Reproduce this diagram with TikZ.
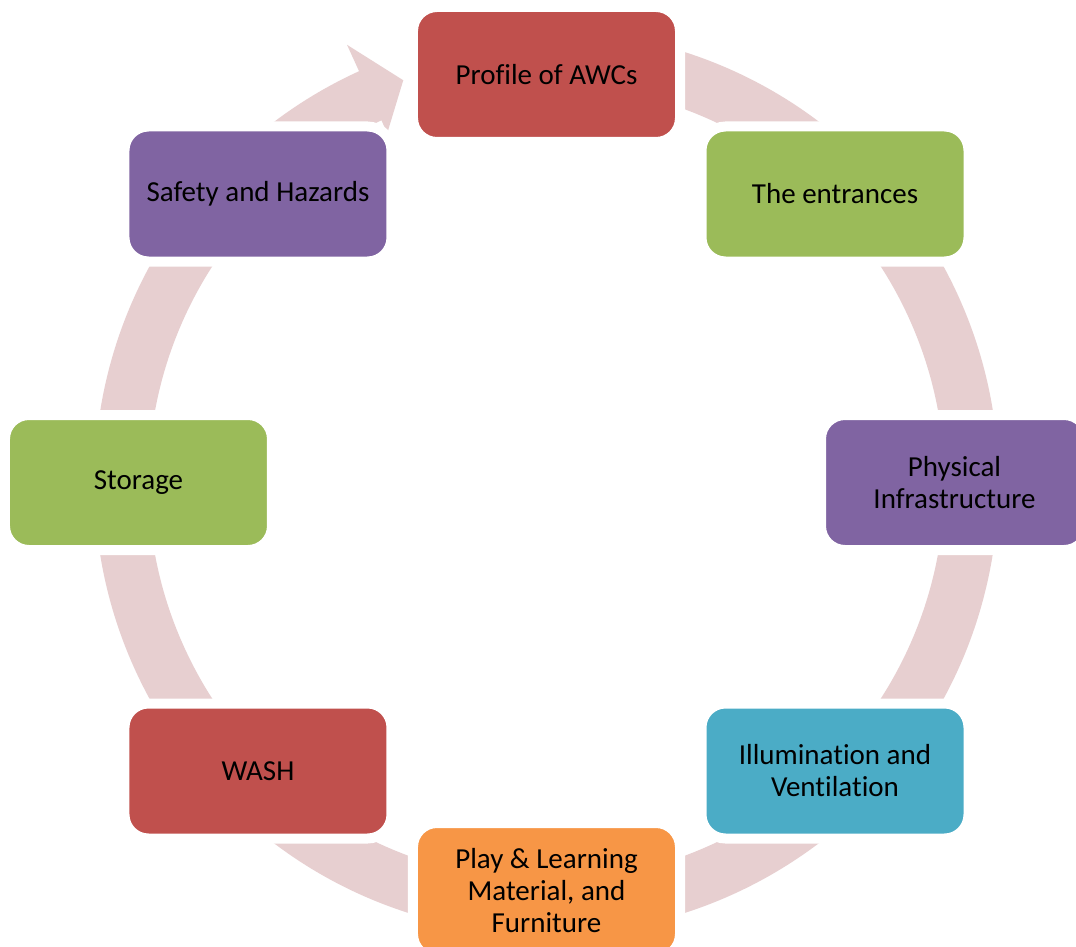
\documentclass[tikz,border=0pt]{standalone}
\usepackage{fontspec}
\setmainfont{Carlito}[Ligatures=NoCommon]
\definecolor{ringc}{RGB}{231,207,208}
\definecolor{cred}{RGB}{192,80,77}
\definecolor{cgreen}{RGB}{155,187,89}
\definecolor{cpurple}{RGB}{128,100,162}
\definecolor{cblue}{RGB}{75,172,198}
\definecolor{corange}{RGB}{247,150,70}
\begin{document}
\begin{tikzpicture}[x=1pt,y=1pt,
  box/.style={draw=white, line width=10pt, rounded corners=24pt,
    minimum width=267pt, minimum height=135pt, inner sep=0pt,
    align=center, text=black, font=\fontsize{29}{32}\selectfont}]
\fill[white] (-546.5,-463.5) rectangle (529.5,482.5);
\useasboundingbox (-546.5,-463.5) rectangle (529.5,482.5);
% ring with arrowhead
\fill[ringc] (80:452) arc[start angle=80,end angle=-245.5,radius=452]
  -- (-245.5:481) -- (-250.4:427) -- (-245.5:384) -- (-245.5:398)
  arc[start angle=-245.5,end angle=80,radius=398] -- cycle;
% boxes
\node[box, fill=cred]    (profile) at (90:408)   {Profile of AWCs};
\node[box, fill=cgreen]  (entr)    at (45:408)   {The entrances};
\node[box, fill=cpurple] (phys)    at (0:408)    {Physical\\Infrastructure};
\node[box, fill=cblue]   (illum)   at (-45:408)  {Illumination and\\Ventilation};
\node[box, fill=corange] (play)    at (-90:408)  {Play \& Learning\\Material, and\\Furniture};
\node[box, fill=cred]    (wash)    at (-135:408) {WASH};
\node[box, fill=cgreen]  (stor)    at (180:408)  {Storage};
\node[box, fill=cpurple] (safety)  at (135:408)  {Safety and Hazards};
\end{tikzpicture}
\end{document}
